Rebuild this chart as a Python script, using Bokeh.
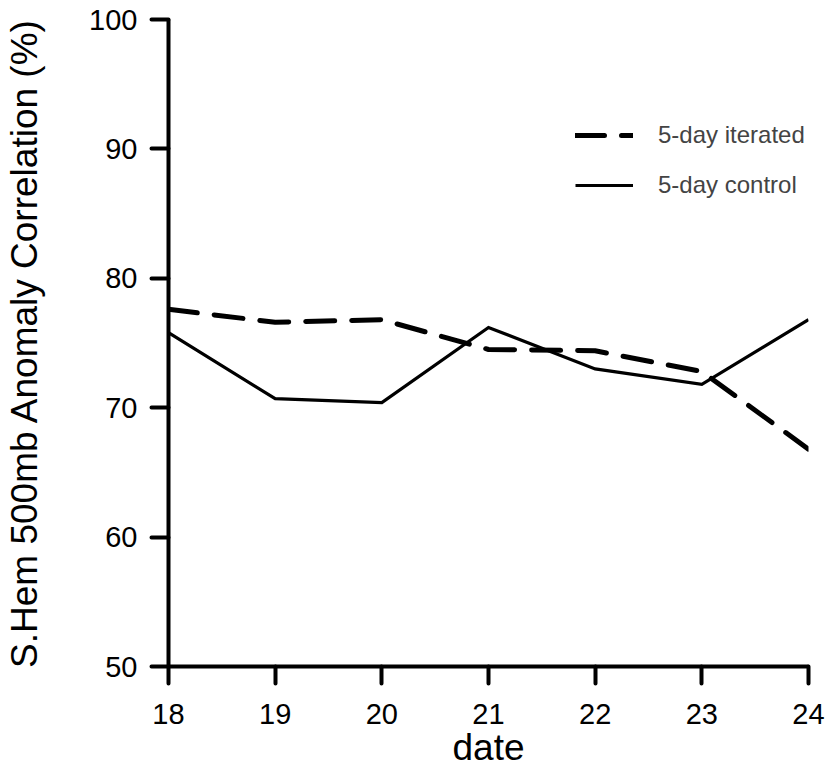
from bokeh.plotting import figure
from bokeh.models import Range1d, FixedTicker, Legend, LegendItem
from bokeh.embed import file_html
from bokeh.resources import INLINE

# Daily anomaly correlation scores (%)
dates = [18, 19, 20, 21, 22, 23, 24]
iterated = [77.6, 76.6, 76.8, 74.5, 74.4, 72.8, 66.8]
control = [75.8, 70.7, 70.4, 76.2, 73.0, 71.8, 76.8]

x_ticks = [18, 19, 20, 21, 22, 23, 24]
y_ticks = [50, 60, 70, 80, 90, 100]

FONT = "Liberation Sans"

p = figure(
    width=830, height=773,
    x_range=Range1d(18, 24), y_range=Range1d(50, 100),
    output_backend="svg", toolbar_location=None,
    min_border_left=168, min_border_right=22,
    min_border_top=19, min_border_bottom=107,
)
p.outline_line_color = None
p.xgrid.visible = False
p.ygrid.visible = False
p.background_fill_color = "white"
p.border_fill_color = "white"

r_iter = p.line(dates, iterated, line_color="black", line_width=5,
                line_dash="29 17", line_cap="round")
r_ctrl = p.line(dates, control, line_color="black", line_width=3.2,
                line_join="miter")

for ax in (p.xaxis[0], p.yaxis[0]):
    ax.axis_line_width = 4
    ax.axis_line_color = "black"
    ax.major_tick_line_width = 4
    ax.major_tick_line_cap = "round"
    ax.major_tick_out = 17
    ax.major_tick_in = 0
    ax.minor_tick_line_color = None
    ax.major_label_text_font = FONT
    ax.major_label_text_font_size = "29px"
    ax.major_label_text_color = "black"
    ax.axis_label_text_font = FONT
    ax.axis_label_text_font_size = "37px"
    ax.axis_label_text_font_style = "normal"
    ax.axis_label_text_color = "black"

p.xaxis.ticker = FixedTicker(ticks=x_ticks)
p.yaxis.ticker = FixedTicker(ticks=y_ticks)
p.xaxis.major_label_standoff = 20
p.yaxis.major_label_standoff = 14
p.xaxis.axis_label = "date"
p.yaxis.axis_label = "S.Hem 500mb Anomaly Correlation (%)"
p.xaxis.axis_label_standoff = 0
p.yaxis.axis_label_standoff = 41

legend = Legend(
    items=[LegendItem(label="5-day iterated", renderers=[r_iter]),
           LegendItem(label="5-day control", renderers=[r_ctrl])],
    location=(407, 467),
    border_line_color=None, background_fill_alpha=0,
    padding=0, margin=0, spacing=22,
    glyph_width=58, glyph_height=24, label_height=24,
    label_standoff=25,
    label_text_font=FONT, label_text_font_size="24px",
)
p.add_layout(legend, "center")

open("out.html", "w").write(file_html(p, INLINE))
